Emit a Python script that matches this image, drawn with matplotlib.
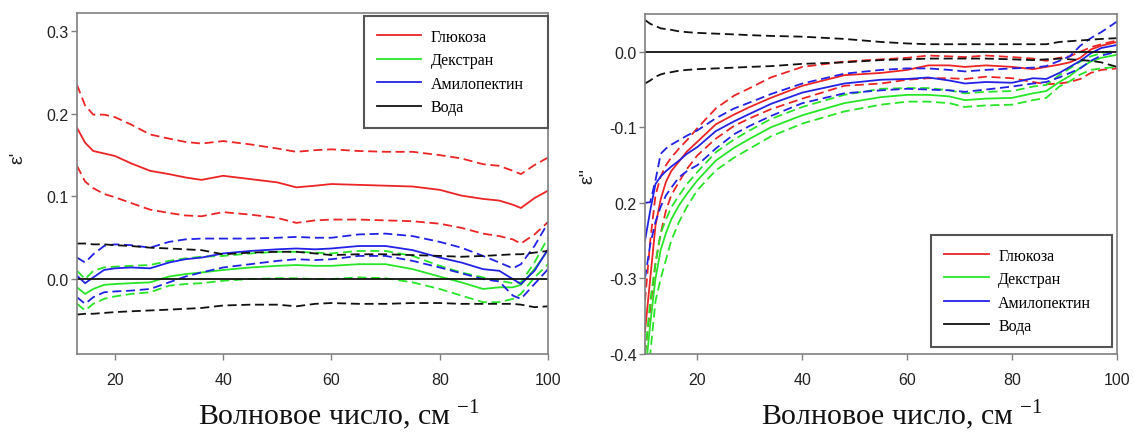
import matplotlib
matplotlib.use('Agg')
import matplotlib.pyplot as plt

plt.rcParams['font.family'] = ['Liberation Sans', 'DejaVu Sans']
plt.rcParams['mathtext.fontset'] = 'custom'
plt.rcParams['mathtext.rm'] = 'Liberation Serif'

# ---- left panel: eps' ----
wn_l = [13, 14.5, 16, 18, 20, 23, 26.5, 30, 33, 36, 40, 45, 50, 53.5, 57, 60,
        65, 70, 75, 80, 84, 88, 91, 93.5, 95, 97.5, 100]

glu_l = [0.183, 0.165, 0.155, 0.152, 0.149, 0.140, 0.131, 0.127, 0.123, 0.120, 0.125, 0.121, 0.117, 0.111,
         0.113, 0.115, 0.114, 0.113, 0.112, 0.108, 0.101, 0.097, 0.095, 0.090, 0.086, 0.098, 0.107]
glu_l_hi = [0.235, 0.210, 0.199, 0.199, 0.196, 0.187, 0.175, 0.170, 0.166, 0.164, 0.167, 0.163, 0.158, 0.154,
            0.156, 0.157, 0.155, 0.154, 0.154, 0.150, 0.146, 0.139, 0.137, 0.131, 0.127, 0.138, 0.147]
glu_l_lo = [0.137, 0.118, 0.110, 0.103, 0.099, 0.092, 0.084, 0.080, 0.077, 0.076, 0.081, 0.078, 0.074, 0.068,
            0.071, 0.072, 0.072, 0.071, 0.070, 0.067, 0.062, 0.055, 0.052, 0.048, 0.043, 0.054, 0.069]

dex_l = [-0.010, -0.018, -0.012, -0.007, -0.006, -0.005, -0.004, 0.003, 0.006, 0.008, 0.011, 0.014, 0.016, 0.017,
         0.016, 0.016, 0.018, 0.018, 0.012, 0.003, -0.004, -0.012, -0.010, -0.010, -0.007, 0.012, 0.035]
dex_l_hi = [0.010, 0.000, 0.010, 0.014, 0.015, 0.016, 0.017, 0.022, 0.025, 0.027, 0.028, 0.031, 0.033, 0.033,
            0.032, 0.031, 0.034, 0.034, 0.028, 0.016, 0.008, 0.002, -0.002, -0.005, -0.004, 0.020, 0.050]
dex_l_lo = [-0.030, -0.038, -0.030, -0.024, -0.021, -0.018, -0.016, -0.008, -0.006, -0.005, -0.002, 0.000, 0.001, 0.001,
            0.000, 0.000, 0.002, 0.001, -0.004, -0.012, -0.020, -0.028, -0.028, -0.024, -0.018, 0.002, 0.018]

amy_l = [0.004, -0.005, 0.002, 0.011, 0.013, 0.014, 0.013, 0.020, 0.024, 0.026, 0.031, 0.034, 0.036, 0.037,
         0.036, 0.037, 0.040, 0.040, 0.035, 0.026, 0.020, 0.012, 0.010, 0.000, -0.006, 0.010, 0.036]
amy_l_hi = [0.026, 0.020, 0.030, 0.040, 0.042, 0.041, 0.038, 0.045, 0.048, 0.049, 0.049, 0.049, 0.050, 0.051,
            0.050, 0.050, 0.054, 0.055, 0.052, 0.045, 0.038, 0.028, 0.020, 0.013, 0.018, 0.040, 0.068]
amy_l_lo = [-0.022, -0.030, -0.022, -0.016, -0.015, -0.014, -0.012, -0.004, 0.003, 0.008, 0.014, 0.018, 0.022, 0.024,
            0.023, 0.024, 0.028, 0.028, 0.022, 0.014, 0.007, 0.000, -0.003, -0.020, -0.024, -0.006, 0.012]

wat_l_x = [13, 100]
wat_l = [0.0, 0.0]
wat_l_hi = [0.043, 0.043, 0.042, 0.042, 0.041, 0.040, 0.038, 0.037, 0.036, 0.035, 0.030, 0.032, 0.033, 0.033,
            0.031, 0.029, 0.030, 0.030, 0.029, 0.028, 0.027, 0.028, 0.029, 0.030, 0.030, 0.032, 0.034]
wat_l_lo = [-0.043, -0.042, -0.042, -0.041, -0.040, -0.039, -0.038, -0.037, -0.036, -0.035, -0.032, -0.031, -0.031, -0.033,
            -0.030, -0.029, -0.030, -0.030, -0.029, -0.029, -0.030, -0.030, -0.030, -0.030, -0.031, -0.034, -0.033]

# ---- right panel: eps'' ----
wn_r = [10, 11, 12, 13, 14, 15, 16.5, 18, 20, 23.5, 27, 30, 34, 40, 48, 55, 60, 64, 68, 71,
        75, 80, 84, 86.5, 89, 91, 93, 95, 97, 100]

glu_r = [-0.37, -0.30, -0.23, -0.195, -0.172, -0.158, -0.145, -0.132, -0.119, -0.096, -0.083, -0.073, -0.061, -0.045, -0.031,
         -0.028, -0.024, -0.018, -0.018, -0.020, -0.018, -0.020, -0.023, -0.020, -0.017, -0.014, -0.008, 0.003, 0.008, 0.013]
glu_r_hi = [-0.33, -0.25, -0.19, -0.165, -0.150, -0.140, -0.128, -0.117, -0.101, -0.075, -0.058, -0.048, -0.034, -0.020, -0.013,
            -0.010, -0.008, -0.005, -0.006, -0.007, -0.005, -0.007, -0.009, -0.012, -0.008, -0.006, 0.000, 0.006, 0.010, 0.015]
glu_r_lo = [-0.40, -0.34, -0.28, -0.24, -0.21, -0.19, -0.172, -0.155, -0.137, -0.115, -0.098, -0.088, -0.076, -0.062, -0.045,
            -0.042, -0.037, -0.035, -0.035, -0.036, -0.033, -0.035, -0.040, -0.043, -0.042, -0.040, -0.036, -0.028, -0.024, -0.022]

dex_r = [-0.43, -0.36, -0.30, -0.262, -0.240, -0.222, -0.203, -0.188, -0.170, -0.144, -0.127, -0.115, -0.100, -0.084, -0.068,
         -0.060, -0.057, -0.057, -0.059, -0.064, -0.062, -0.061, -0.055, -0.052, -0.040, -0.032, -0.021, -0.013, -0.008, -0.004]
dex_r_hi = [-0.40, -0.33, -0.28, -0.24, -0.222, -0.206, -0.190, -0.175, -0.159, -0.133, -0.116, -0.104, -0.089, -0.073, -0.057,
            -0.049, -0.048, -0.048, -0.051, -0.055, -0.053, -0.052, -0.046, -0.044, -0.031, -0.022, -0.013, -0.006, -0.002, 0.002]
dex_r_lo = [-0.46, -0.40, -0.33, -0.30, -0.275, -0.250, -0.225, -0.205, -0.183, -0.157, -0.140, -0.128, -0.112, -0.095, -0.079,
            -0.070, -0.066, -0.066, -0.068, -0.073, -0.071, -0.070, -0.064, -0.061, -0.046, -0.039, -0.030, -0.024, -0.022, -0.020]

amy_r = [-0.25, -0.21, -0.175, -0.165, -0.158, -0.152, -0.144, -0.135, -0.126, -0.105, -0.092, -0.082, -0.069, -0.054, -0.042,
         -0.037, -0.036, -0.034, -0.038, -0.042, -0.040, -0.041, -0.035, -0.036, -0.028, -0.020, -0.012, -0.002, 0.005, 0.009]
amy_r_hi = [-0.200, -0.199, -0.170, -0.135, -0.128, -0.123, -0.117, -0.111, -0.104, -0.088, -0.075, -0.067, -0.056, -0.042, -0.029,
            -0.024, -0.022, -0.022, -0.024, -0.026, -0.024, -0.022, -0.021, -0.019, -0.012, -0.006, 0.008, 0.018, 0.026, 0.040]
amy_r_lo = [-0.30, -0.255, -0.225, -0.205, -0.190, -0.180, -0.166, -0.158, -0.150, -0.128, -0.109, -0.098, -0.085, -0.068, -0.055,
            -0.051, -0.049, -0.050, -0.051, -0.053, -0.050, -0.046, -0.042, -0.040, -0.034, -0.028, -0.022, -0.012, -0.005, 0.000]

wat_r_x = [10, 100]
wat_r = [0.0, 0.0]
wat_r_hi = [0.042, 0.037, 0.034, 0.031, 0.030, 0.029, 0.027, 0.026, 0.025, 0.024, 0.023, 0.022, 0.021, 0.020, 0.017,
            0.013, 0.011, 0.010, 0.010, 0.010, 0.010, 0.010, 0.010, 0.010, 0.013, 0.014, 0.015, 0.016, 0.017, 0.018]
wat_r_lo = [-0.042, -0.038, -0.033, -0.030, -0.028, -0.027, -0.025, -0.024, -0.023, -0.022, -0.021, -0.020, -0.019, -0.016, -0.014,
            -0.011, -0.010, -0.009, -0.009, -0.009, -0.009, -0.010, -0.011, -0.010, -0.009, -0.010, -0.011, -0.012, -0.014, -0.020]

names = ['Глюкоза', 'Декстран', 'Амилопектин', 'Вода']
colors = ['#ec2424', '#26e626', '#2222e6', '#111111']
xticks = [20, 40, 60, 80, 100]
yticks_l = [0.0, 0.1, 0.2, 0.3]
yticklabels_l = ['0.0', '0.1', '0.2', '0.3']
yticks_r = [0.0, -0.1, -0.2, -0.3, -0.4]
yticklabels_r = ['0.0', '-0.1', '0.2', '-0.3', '-0.4']   # as printed in the original

LW = 1.3
DASH = (0, (5, 2.6))


def draw_panel(ax, wn, groups, wat_x, wat, wat_hi, wat_lo):
    handles = []
    for (mean, hi, lo), c, name in zip(groups, colors[:3], names[:3]):
        h, = ax.plot(wn, mean, color=c, lw=LW, label=name)
        ax.plot(wn, hi, color=c, lw=LW, ls=DASH)
        ax.plot(wn, lo, color=c, lw=LW, ls=DASH)
        handles.append(h)
    h, = ax.plot(wat_x, wat, color=colors[3], lw=LW, label=names[3])
    ax.plot(wn, wat_hi, color=colors[3], lw=LW, ls=DASH)
    ax.plot(wn, wat_lo, color=colors[3], lw=LW, ls=DASH)
    handles.append(h)
    for sp in ax.spines.values():
        sp.set_color('#808080')
        sp.set_linewidth(1.2)
    ax.tick_params(direction='out', length=4, width=1, color='#808080',
                   labelsize=11.5, labelcolor='#222222', top=False, right=False)
    ax.tick_params(axis='x', pad=9)
    ax.tick_params(axis='y', pad=2)
    ax.set_xticks(xticks)
    return handles


fig = plt.figure(figsize=(11.34, 4.35), dpi=100)
ax1 = fig.add_axes([77 / 1134, 1 - 355 / 435, 471 / 1134, 341 / 435])
ax2 = fig.add_axes([645 / 1134, 1 - 355 / 435, 472 / 1134, 340 / 435])

h1 = draw_panel(ax1, wn_l, [(glu_l, glu_l_hi, glu_l_lo), (dex_l, dex_l_hi, dex_l_lo), (amy_l, amy_l_hi, amy_l_lo)],
                wat_l_x, wat_l, wat_l_hi, wat_l_lo)
ax1.set_xlim(13, 100)
ax1.set_ylim(-0.0907, 0.322)
ax1.set_yticks(yticks_l)
ax1.set_yticklabels(yticklabels_l)
ax1.set_ylabel("ε'", fontsize=14, color='#222222')
ax1.yaxis.set_label_coords(-0.108, 0.578)

h2 = draw_panel(ax2, wn_r, [(glu_r, glu_r_hi, glu_r_lo), (dex_r, dex_r_hi, dex_r_lo), (amy_r, amy_r_hi, amy_r_lo)],
                wat_r_x, wat_r, wat_r_hi, wat_r_lo)
ax2.set_xlim(10, 100)
ax2.set_ylim(-0.4, 0.05)
ax2.set_yticks(yticks_r)
ax2.set_yticklabels(yticklabels_r)
ax2.set_ylabel("ε''", fontsize=14, color='#222222')
ax2.yaxis.set_label_coords(-0.102, 0.526)

leg_kw = dict(mode='expand', borderaxespad=0, prop={'family': 'Liberation Serif', 'size': 11.5},
              handlelength=2.8, handletextpad=0.6, labelspacing=0.47, borderpad=0.8,
              fancybox=False, framealpha=1, edgecolor='#555555')
leg1 = ax1.legend(h1, names, loc='upper left', bbox_to_anchor=(0.609, 0.669, 0.391, 0.322), **leg_kw)
leg1.get_frame().set_linewidth(1.5)
leg2 = ax2.legend(h2, names, loc='lower left', bbox_to_anchor=(0.606, 0.021, 0.383, 0.32), **leg_kw)
leg2.get_frame().set_linewidth(1.5)

xlabel = r"Волновое число, см$^{\ \mathregular{-1}}$"
fig.text(339 / 1134, 1 - 425 / 435, xlabel, ha='center', va='baseline',
         family='Liberation Serif', fontsize=21.5, color='#111111')
fig.text(902 / 1134, 1 - 425 / 435, xlabel, ha='center', va='baseline',
         family='Liberation Serif', fontsize=21.5, color='#111111')

fig.savefig('out.png', dpi=100)
